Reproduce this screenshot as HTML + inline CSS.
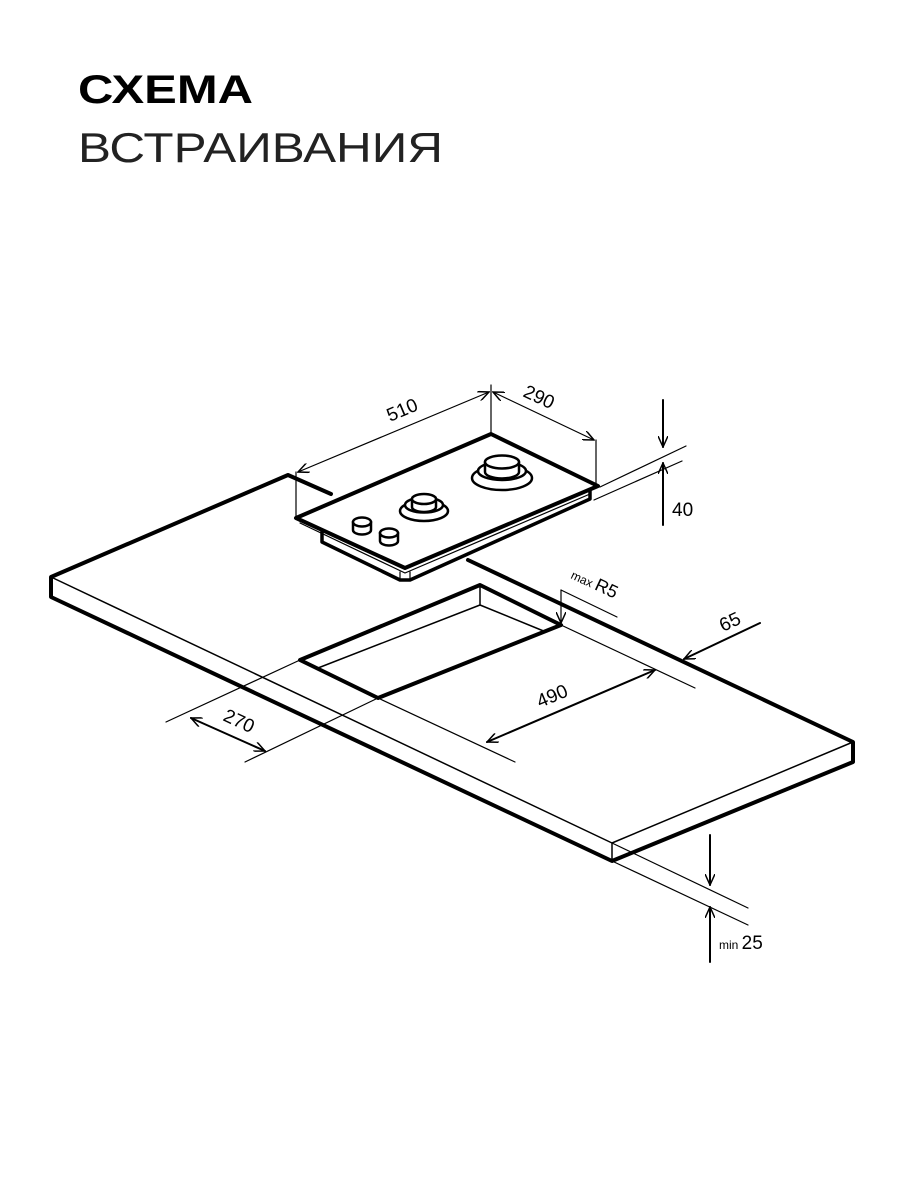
<!DOCTYPE html>
<html><head><meta charset="utf-8"><style>html,body{margin:0;padding:0;background:#fff}svg{display:block}</style></head>
<body>
<svg width="900" height="1200" viewBox="0 0 900 1200" xmlns="http://www.w3.org/2000/svg" font-family="Liberation Sans, sans-serif">
<defs>
<marker id="a" viewBox="0 0 12 10" refX="11" refY="5" markerWidth="12" markerHeight="10" markerUnits="userSpaceOnUse" orient="auto-start-reverse">
<path d="M0,0 L11,5 L0,10" fill="none" stroke="#000" stroke-width="1.5"/></marker>
</defs>
<text x="78" y="103" font-size="40" font-weight="bold" textLength="175" lengthAdjust="spacingAndGlyphs">СХЕМА</text>
<text x="78" y="162" font-size="42" textLength="365" lengthAdjust="spacingAndGlyphs" fill="#222">ВСТРАИВАНИЯ</text>

<g fill="none" stroke="#000" stroke-linejoin="round" stroke-linecap="round">
<path d="M331,494 L288,475 L51,577 L51,597 L612,861 L853,762 L853,742 L468,560" stroke-width="4"/>
<path d="M51,577 L612,843 L853,742 M612,843 L612,861" stroke-width="1.5"/>
<path d="M480,585 L561,625 L378,698 L300,660 Z" stroke-width="4"/>
<path d="M480,585 L480,605 L318,668 M480,605 L546,632" stroke-width="1.5"/>
<path d="M491,434 L598,486 L405,568 L296,518 Z" stroke-width="4"/>
<path d="M300,523 L405,573 L590,494" stroke-width="1.2"/>
<path d="M322,530 L322,542 L400,580 L410,580 L590,499 L590,490" stroke-width="3.5"/>
<path d="M400,572 L400,580 M410,572 L410,580" stroke-width="1.2"/>
<g stroke-width="2.5" fill="#fff">
<ellipse cx="502" cy="478" rx="30" ry="12"/>
<ellipse cx="502" cy="471" rx="24" ry="9"/>
<path d="M485,462 L485,472 A17,6.5 0 0 0 519,472 L519,462"/>
<ellipse cx="502" cy="462" rx="17" ry="6.5"/>
<ellipse cx="424" cy="511" rx="24" ry="10"/>
<ellipse cx="424" cy="505" rx="19" ry="7.5"/>
<path d="M412,499 L412,507 A12,5 0 0 0 436,507 L436,499"/>
<ellipse cx="424" cy="499" rx="12" ry="5"/>
<path d="M353,522 L353,530 A9,4.5 0 0 0 371,530 L371,522"/>
<ellipse cx="362" cy="522" rx="9" ry="4.5"/>
<path d="M380,533 L380,541 A9,4.5 0 0 0 398,541 L398,533"/>
<ellipse cx="389" cy="533" rx="9" ry="4.5"/>
</g>
<g stroke-width="1.2">
<path d="M296,518 L296,472 M491,434 L491,385 M596,486 L596,440"/>
<path d="M298,472 L489,392" marker-start="url(#a)" marker-end="url(#a)"/>
<path d="M493,392 L594,440" marker-start="url(#a)" marker-end="url(#a)"/>
<path d="M600,487 L686,446 M594,500 L682,461"/>
<path d="M663,400 L663,447" stroke-width="2" marker-end="url(#a)"/>
<path d="M663,525 L663,463" stroke-width="2" marker-end="url(#a)"/>
<path d="M561,590 L561,623" marker-end="url(#a)"/>
<path d="M561,590 L617,617"/>
<path d="M561,625 L695,688 M378,698 L515,762"/>
<path d="M487,742 L655,670" stroke-width="2" marker-start="url(#a)" marker-end="url(#a)"/>
<path d="M760,623 L684,659" stroke-width="2" marker-end="url(#a)"/>
<path d="M300,660 L166,722 M378,698 L245,762"/>
<path d="M191,718 L265,751" stroke-width="2" marker-start="url(#a)" marker-end="url(#a)"/>
<path d="M612,843 L748,908 M612,861 L748,925"/>
<path d="M710,835 L710,885" stroke-width="2" marker-end="url(#a)"/>
<path d="M710,962 L710,907" stroke-width="2" marker-end="url(#a)"/>
</g>
</g>
<g font-size="19" fill="#000">
<text transform="translate(390,422) rotate(-23)">510</text>
<text transform="translate(522,396) rotate(25)">290</text>
<text x="672" y="516">40</text>
<text transform="translate(570,578) rotate(25)" font-size="12">max <tspan font-size="18">R5</tspan></text>
<text transform="translate(723,632) rotate(-25)">65</text>
<text transform="translate(540,708) rotate(-23)">490</text>
<text transform="translate(222,720) rotate(25)">270</text>
<text x="719" y="949" font-size="12">min <tspan font-size="19">25</tspan></text>
</g>
</svg>
</body></html>
